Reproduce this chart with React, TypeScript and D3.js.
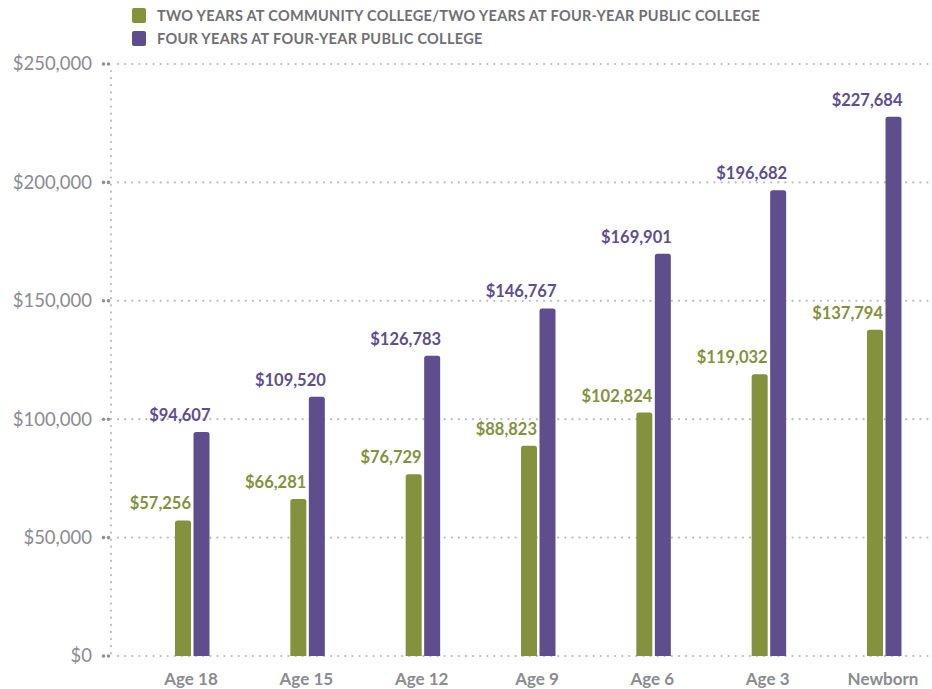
import React from 'react';
import * as d3 from 'd3';

// chart values
const ages = ['Age 18', 'Age 15', 'Age 12', 'Age 9', 'Age 6', 'Age 3', 'Newborn'];
const twoYear = [57256, 66281, 76729, 88823, 102824, 119032, 137794];
const fourYear = [94607, 109520, 126783, 146767, 169901, 196682, 227684];
const yTicks = [0, 50000, 100000, 150000, 200000, 250000];
const seriesNames = [
  'TWO YEARS AT COMMUNITY COLLEGE/TWO YEARS AT FOUR-YEAR PUBLIC COLLEGE',
  'FOUR YEARS AT FOUR-YEAR PUBLIC COLLEGE',
];

const GREEN = '#84913d';
const PURPLE = '#5e4e8d';
const GRID = '#bcbdc0';
const TEXT = '#8a8c8f';
const FONT = 'Lato, "Open Sans", sans-serif';

const W = 932;
const H = 689;

const App = () => {
  const x = d3.scalePoint().domain(ages).range([192, 884]);
  const y = d3.scaleLinear().domain([0, 250000]).range([656, 64]);
  const fmt = d3.format('$,');
  const barW = 16;

  const rounded = (x0: number, top: number, w: number, bottom: number, r: number) => {
    const p = d3.path();
    p.moveTo(x0, bottom);
    p.lineTo(x0, top + r);
    p.quadraticCurveTo(x0, top, x0 + r, top);
    p.lineTo(x0 + w - r, top);
    p.quadraticCurveTo(x0 + w, top, x0 + w, top + r);
    p.lineTo(x0 + w, bottom);
    p.closePath();
    return p.toString();
  };

  return (
    <svg width={W} height={H} style={{ position: 'absolute', left: 0, top: 0, background: '#fff' }} fontFamily={FONT}>
      {/* legend */}
      {seriesNames.map((s, i) => (
        <g key={s} transform={`translate(132,${8 + i * 23})`}>
          <rect width={14} height={15} rx={2} fill={i === 0 ? GREEN : PURPLE} />
          <text x={25} y={12.5} fontSize={14.5} letterSpacing={0.3} fontWeight={700} fill="#6f7073">{s}</text>
        </g>
      ))}

      {/* grid */}
      {yTicks.map(t => (
        <g key={t}>
          <line x1={118} x2={930} y1={y(t)} y2={y(t)} stroke={GRID} strokeWidth={2.2} strokeDasharray="0.1 7" strokeLinecap="round" />
          <circle cx={103.5} cy={y(t)} r={1.8} fill="#8f9194" />
          <circle cx={108.5} cy={y(t)} r={1.8} fill="#8f9194" />
          <text x={92} y={y(t)} dy="0.35em" textAnchor="end" fontSize={18.5} fill={TEXT}>{fmt(t)}</text>
        </g>
      ))}
      <line x1={111} x2={111} y1={y(250000) + 7} y2={y(0)} stroke={GRID} strokeWidth={2.2} strokeDasharray="0.1 7" strokeLinecap="round" />

      {/* bars */}
      {ages.map((a, i) => {
        const c = x(a) as number;
        const gx = c - barW - 1;
        const px = c + 1.5;
        return (
          <g key={a}>
            <path d={rounded(gx, y(twoYear[i]), barW, y(0), 2.5)} fill={GREEN} />
            <path d={rounded(px, y(fourYear[i]), barW, y(0), 2.5)} fill={PURPLE} />
            <text x={gx + barW} y={y(twoYear[i]) - 11} textAnchor="end" fontSize={16.5} fontWeight={700} fill={GREEN}>{fmt(twoYear[i])}</text>
            <text x={px + barW + 1} y={y(fourYear[i]) - 11} textAnchor="end" fontSize={16.5} fontWeight={700} fill={PURPLE}>{fmt(fourYear[i])}</text>
            <text x={c - 1} y={685} textAnchor="middle" fontSize={17} fontWeight={700} fill={TEXT}>{a}</text>
          </g>
        );
      })}
    </svg>
  );
};

export default App;
